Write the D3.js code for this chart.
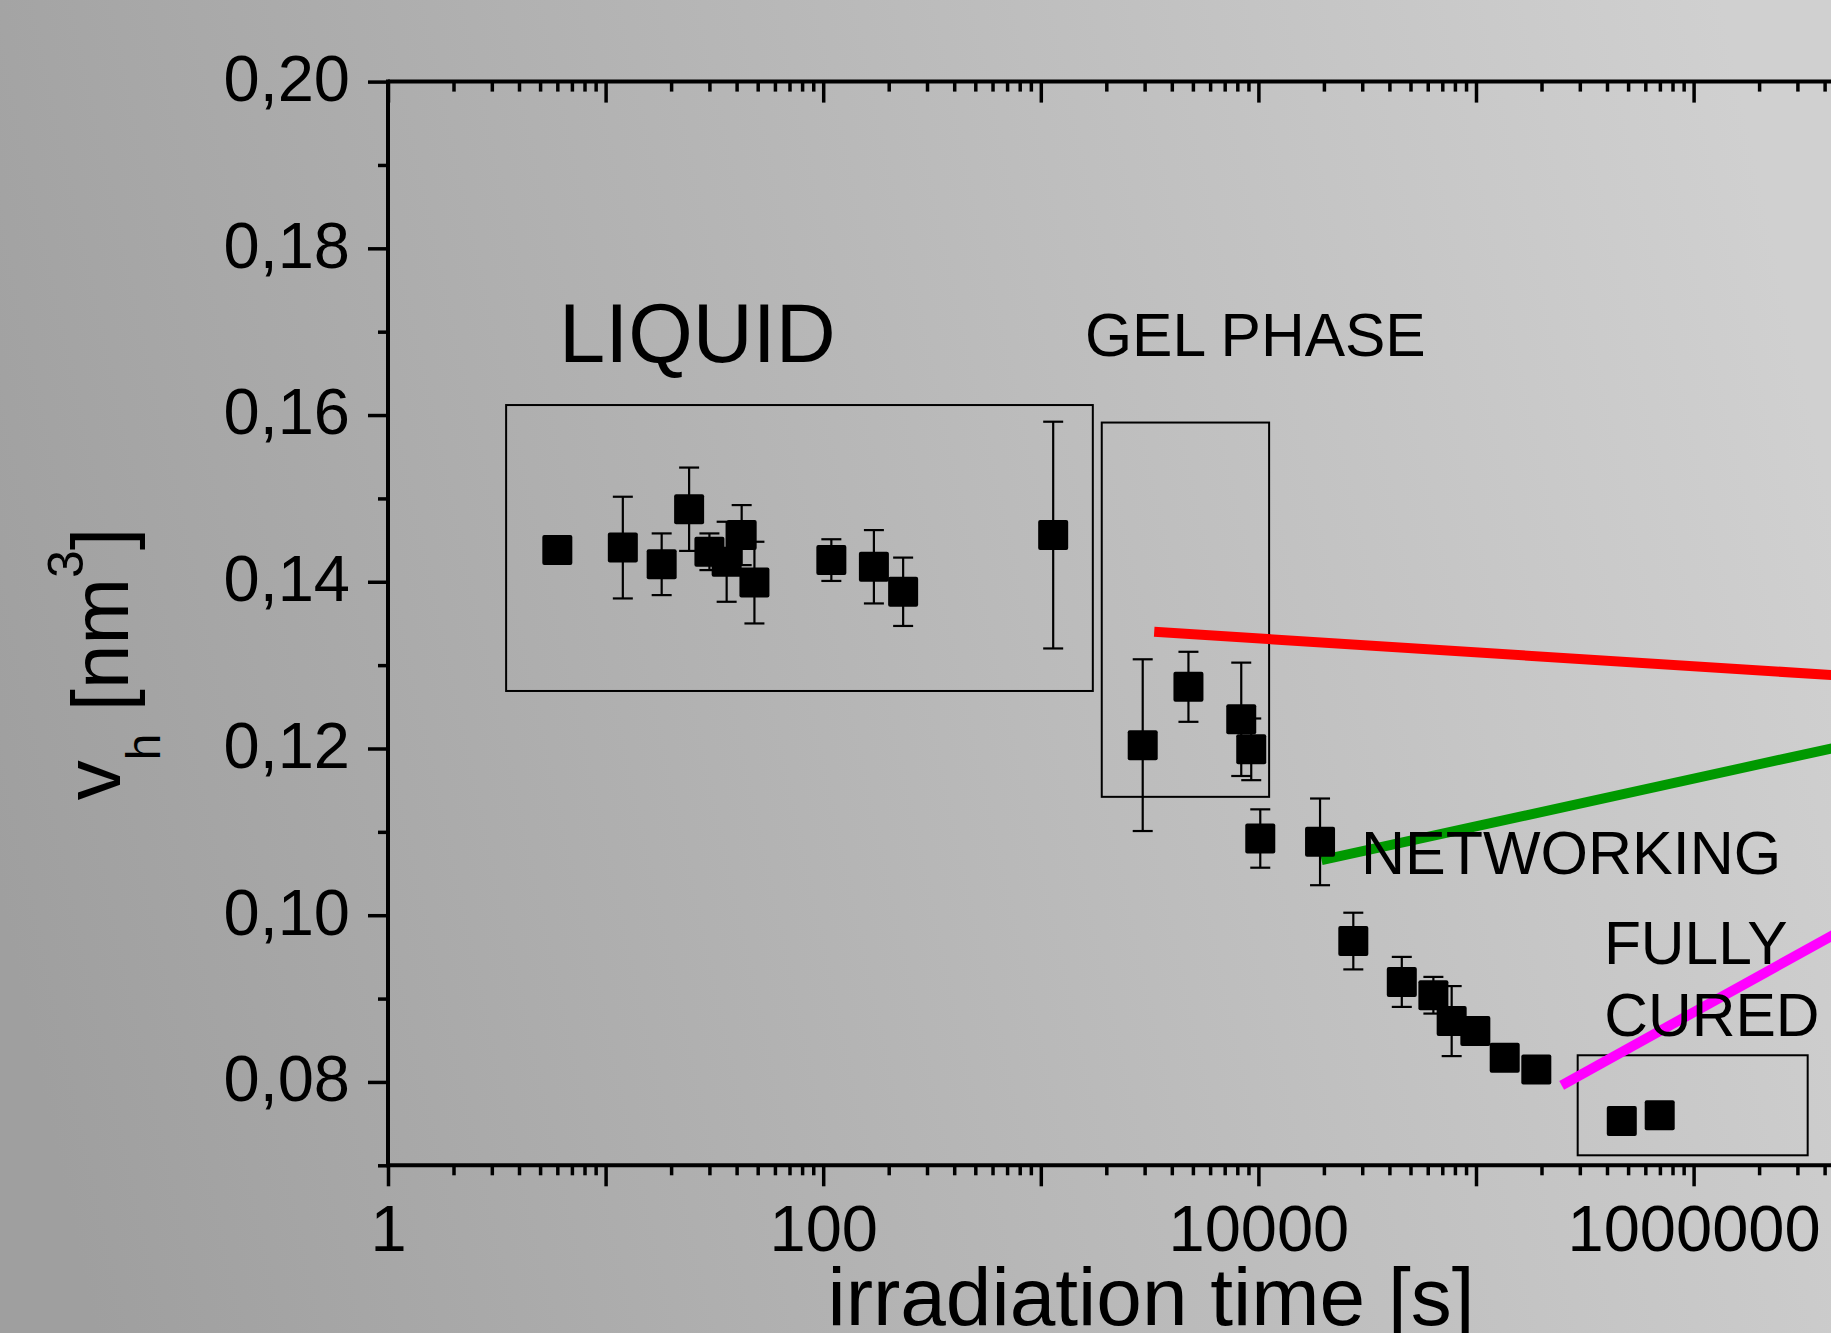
<!DOCTYPE html>
<html lang="en">
<head>
<meta charset="UTF-8">
<title>v_h vs irradiation time</title>
<script src="https://d3js.org/d3.v7.min.js"></script>
<style>
    body { margin: 0; background: #b4b4b4; }
    svg { display: block; font-family: "Liberation Sans", Arial, sans-serif; }
</style>
</head>
<body>
<div id="chart"></div>
<script>
// measured points: irradiation time [s], hole volume v_h [nm^3], error (+/-)
var times = [6.0, 12.0, 18.1, 24.2, 30.0, 36.0, 42.2, 48.3, 109, 171, 233, 1140,
             2940, 4770, 8340, 9270,
             10200, 19200, 27300, 45600, 63700, 77300, 99300, 135500, 189300,
             467700, 698600];
var vh = [0.1438, 0.1441, 0.1421, 0.1487, 0.1436, 0.1424, 0.1456, 0.1399, 0.1426, 0.1418, 0.1388, 0.1456,
          0.1204, 0.1274, 0.1235, 0.1199,
          0.1092, 0.1088, 0.0969, 0.0920, 0.0904, 0.0873, 0.0861, 0.0829, 0.0815,
          0.0753, 0.0760];
var vhErr = [0, 0.0061, 0.0037, 0.0050, 0.0022, 0.0048, 0.0036, 0.0049, 0.0025, 0.0044, 0.0041, 0.0136,
             0.0103, 0.0042, 0.0068, 0.0037,
             0.0035, 0.0052, 0.0034, 0.0030, 0.0022, 0.0042, 0, 0, 0,
             0, 0];

// guide lines (start / end in data units)
var fitTimes = [[3320, 1e7], [19500, 1e7], [247600, 1e7]];
var fitValues = [[0.1340, 0.1282], [0.1066, 0.1221], [0.0796, 0.1028]];

// region boxes
var boxTimes = [[3.49, 1734], [1906, 11200], [293300, 3344000]];
var boxValues = [[0.1612, 0.1269], [0.1591, 0.1142], [0.0832, 0.0712]];

// region labels
var labelTexts = ["LIQUID", "GEL PHASE", "NETWORKING", "FULLY", "CURED"];
var labelTimes = [6.11, 1596, 29600, 387000, 389000];
var labelValues = [0.1664, 0.1671, 0.1050, 0.0942, 0.0855];

// axis ticks
var xLabelTicks = [1, 100, 10000, 1000000];
var yMajorTicks = [0.08, 0.10, 0.12, 0.14, 0.16, 0.18, 0.20];
var yMinorTicks = [0.07, 0.09, 0.11, 0.13, 0.15, 0.17, 0.19];

var width = 1831, height = 1333;
var plotLeft = 388, plotTop = 81.6, plotBottom = 1165.3, decade = 217.6;

var svg = d3.select("#chart").append("svg")
    .attr("width", width)
    .attr("height", height);

// grey gradient background
var grad = svg.append("defs").append("linearGradient")
    .attr("id", "bg")
    .attr("gradientUnits", "userSpaceOnUse")
    .attr("x1", 0).attr("y1", 900).attr("x2", width).attr("y2", 500);
grad.append("stop").attr("offset", 0).attr("stop-color", "#9f9f9f");
grad.append("stop").attr("offset", 1).attr("stop-color", "#d0d0d0");
svg.append("rect").attr("width", width).attr("height", height).attr("fill", "url(#bg)");

var x = d3.scaleLog().domain([1, 1e6]).range([plotLeft, plotLeft + 6 * decade]);
var y = d3.scaleLinear().domain([0.07, 0.20]).range([plotBottom, plotTop]);

var xMajor = d3.range(0, 9).map(function(k) { return Math.pow(10, k); });
var xMinor = [];
xMajor.forEach(function(p) {
    for (var m = 2; m <= 9; m++) xMinor.push(m * p);
});

var comma = function(d) { return d3.format(".2f")(d).replace(".", ","); };

function styleAxis(g) {
    g.select(".domain").remove();
    g.selectAll(".tick line").attr("stroke", "#000").attr("stroke-width", 3.5);
    g.selectAll(".tick text").attr("fill", "#000").attr("font-size", 65)
        .attr("font-family", "Liberation Sans, Arial, sans-serif");
}

// y axis
svg.append("g").attr("transform", "translate(" + plotLeft + ",0)")
    .call(d3.axisLeft(y).tickValues(yMinorTicks).tickSize(10).tickFormat(""))
    .call(styleAxis);
svg.append("g").attr("transform", "translate(" + plotLeft + ",0)")
    .call(d3.axisLeft(y).tickValues(yMajorTicks).tickSize(20).tickPadding(18).tickFormat(comma))
    .call(styleAxis)
    .selectAll(".tick text").attr("dy", "0.29em");

// bottom axis
svg.append("g").attr("transform", "translate(0," + plotBottom + ")")
    .call(d3.axisBottom(x).tickValues(xMinor).tickSize(10).tickFormat(""))
    .call(styleAxis);
svg.append("g").attr("transform", "translate(0," + plotBottom + ")")
    .call(d3.axisBottom(x).tickValues(xMajor).tickSize(21).tickPadding(19)
        .tickFormat(function(d) { return xLabelTicks.indexOf(d) >= 0 ? String(d) : ""; }))
    .call(styleAxis);

// top axis, ticks pointing inside
svg.append("g").attr("transform", "translate(0," + plotTop + ")")
    .call(d3.axisTop(x).tickValues(xMinor).tickSize(-10).tickFormat(""))
    .call(styleAxis);
svg.append("g").attr("transform", "translate(0," + plotTop + ")")
    .call(d3.axisTop(x).tickValues(xMajor).tickSize(-21).tickFormat(""))
    .call(styleAxis);

// axis lines
svg.append("line").attr("x1", plotLeft).attr("x2", plotLeft).attr("y1", plotTop - 2).attr("y2", plotBottom + 2)
    .attr("stroke", "#000").attr("stroke-width", 4);
svg.append("line").attr("x1", plotLeft).attr("x2", width).attr("y1", plotTop).attr("y2", plotTop)
    .attr("stroke", "#000").attr("stroke-width", 4);
svg.append("line").attr("x1", plotLeft).attr("x2", width).attr("y1", plotBottom).attr("y2", plotBottom)
    .attr("stroke", "#000").attr("stroke-width", 4);

// region boxes
boxTimes.forEach(function(bt, i) {
    svg.append("rect")
        .attr("x", x(bt[0]))
        .attr("y", y(boxValues[i][0]))
        .attr("width", x(bt[1]) - x(bt[0]))
        .attr("height", y(boxValues[i][1]) - y(boxValues[i][0]))
        .attr("fill", "none")
        .attr("stroke", "#000")
        .attr("stroke-width", 2);
});

// guide lines
var fitColors = ["#ff0000", "#009900", "#ff00ff"];
var line = d3.line().x(function(d) { return x(d[0]); }).y(function(d) { return y(d[1]); });
fitTimes.forEach(function(ft, i) {
    svg.append("path")
        .attr("d", line(ft.map(function(t, j) { return [t, fitValues[i][j]]; })))
        .attr("stroke", fitColors[i])
        .attr("stroke-width", 10)
        .attr("fill", "none");
});

// data
var data = times.map(function(t, i) { return { t: t, v: vh[i], e: vhErr[i] }; });

var bars = svg.append("g").selectAll("g")
    .data(data.filter(function(d) { return d.e > 0; }))
    .enter().append("g")
    .attr("stroke", "#000")
    .attr("stroke-width", 2.2);
bars.append("line")
    .attr("x1", function(d) { return x(d.t); })
    .attr("x2", function(d) { return x(d.t); })
    .attr("y1", function(d) { return y(d.v + d.e); })
    .attr("y2", function(d) { return y(d.v - d.e); });
bars.append("line")
    .attr("x1", function(d) { return x(d.t) - 10; })
    .attr("x2", function(d) { return x(d.t) + 10; })
    .attr("y1", function(d) { return y(d.v + d.e); })
    .attr("y2", function(d) { return y(d.v + d.e); });
bars.append("line")
    .attr("x1", function(d) { return x(d.t) - 10; })
    .attr("x2", function(d) { return x(d.t) + 10; })
    .attr("y1", function(d) { return y(d.v - d.e); })
    .attr("y2", function(d) { return y(d.v - d.e); });

svg.append("g").selectAll("rect")
    .data(data)
    .enter().append("rect")
    .attr("x", function(d) { return x(d.t) - 15; })
    .attr("y", function(d) { return y(d.v) - 15; })
    .attr("width", 30)
    .attr("height", 30)
    .attr("rx", 2)
    .attr("fill", "#000");

// region labels
var labelSizes = [83, 60.5, 61, 60.5, 60.5];
labelTexts.forEach(function(txt, i) {
    svg.append("text")
        .attr("x", x(labelTimes[i]))
        .attr("y", y(labelValues[i]))
        .attr("font-size", labelSizes[i])
        .attr("fill", "#000")
        .text(txt);
});

// axis titles
svg.append("text")
    .attr("x", 1151)
    .attr("y", 1325)
    .attr("text-anchor", "middle")
    .attr("font-size", 82)
    .attr("fill", "#000")
    .text("irradiation time [s]");

var yt = svg.append("text")
    .attr("transform", "translate(128,664) rotate(-90)")
    .attr("text-anchor", "middle")
    .attr("font-size", 80)
    .attr("fill", "#000")
    .style("white-space", "pre");
yt.append("tspan").attr("dy", -8).text("v");
yt.append("tspan").attr("dy", 40).attr("font-size", 48).text("h");
yt.append("tspan").attr("dy", -32).attr("font-size", 80).text(" [nm");
yt.append("tspan").attr("dy", -45).attr("font-size", 50).text("3");
yt.append("tspan").attr("dy", 45).attr("font-size", 80).text("]");
</script>
</body>
</html>
